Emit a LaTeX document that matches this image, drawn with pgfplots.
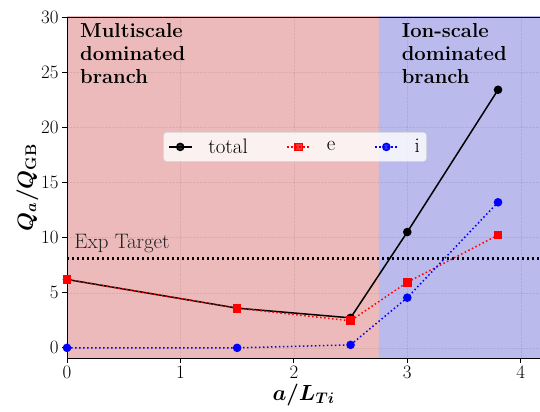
\RequirePackage{fix-cm}
\documentclass[border=0pt]{standalone}
\usepackage{amsmath}
\usepackage{bm}
\usepackage{pgfplots}
\pgfplotsset{compat=1.18}
\definecolor{redreg}{RGB}{236,186,186}
\definecolor{bluereg}{RGB}{186,186,236}
\begin{document}
\begin{tikzpicture}[font=\fontsize{19}{23}\selectfont]
\begin{axis}[
  at={(0,0)}, anchor=south west,
  scale only axis, width=473bp, height=341bp,
  xmin=0, xmax=4.17, ymin=-0.92, ymax=30,
  xtick={0,1,2,3,4}, ytick={0,5,10,15,20,25,30},
  tick align=outside, xtick pos=bottom, ytick pos=left,
  major tick length=5bp,
  tick style={black, line width=0.8bp},
  axis line style={line width=0.8bp},
  tick label style={font=\fontsize{19}{23}\selectfont},
  xlabel={$\bm{a/L_{Ti}}$}, ylabel={$\bm{Q_a/Q_{\mathbf{GB}}}$},
  label style={font=\fontsize{22}{26}\selectfont},
  xlabel style={yshift=2bp},
  ylabel style={yshift=-4bp},
  grid=major, major grid style={densely dotted, black, opacity=0.07},
  axis on top,
  legend columns=3,
  legend style={at={(0.482,0.619)}, anchor=center, draw=black!15, fill=white, fill opacity=0.8, text opacity=1, rounded corners=3bp, font=\fontsize{21}{24}\selectfont, inner sep=4.5bp,
    /tikz/every odd column/.append style={column sep=0.5cm},
    /tikz/every even column/.append style={column sep=1.3cm}},
  legend cell align=left,
  legend image code/.code={\draw[mark repeat=2,mark phase=2] plot coordinates {(0cm,0cm)(0.4cm,0cm)(0.8cm,0cm)};},
]
\addplot[fill=redreg, draw=none, forget plot] coordinates {(0,-2)(2.75,-2)(2.75,31)(0,31)} \closedcycle;
\addplot[fill=bluereg, draw=none, forget plot] coordinates {(2.75,-2)(4.3,-2)(4.3,31)(2.75,31)} \closedcycle;
\addplot[black, line width=2.2bp, dash pattern=on 2bp off 3bp, forget plot] coordinates {(0,8.1)(4.17,8.1)};
\addplot[black, line width=1.5bp, mark=*, mark size=3.5bp, mark options={solid}] coordinates {(0,6.2)(1.5,3.6)(2.5,2.72)(3,10.5)(3.8,23.4)};
\addlegendentry{total}
\addplot[red, line width=1.5bp, dash pattern=on 1.5bp off 2.5bp, mark=square*, mark size=3.6bp, mark options={solid}] coordinates {(0,6.2)(1.5,3.6)(2.5,2.45)(3,5.95)(3.8,10.22)};
\addlegendentry{e}
\addplot[blue, line width=1.5bp, dash pattern=on 1.5bp off 2.5bp, mark=*, mark size=3.5bp, mark options={solid}] coordinates {(0,0)(1.5,0)(2.5,0.27)(3,4.55)(3.8,13.2)};
\addlegendentry{i}
\node[anchor=base west, black!88, font=\fontsize{21}{24}\selectfont] at (axis cs:0.035,9.05) {Exp Target};
\node[anchor=north west, inner sep=0pt, align=left, font=\fontsize{20.3}{23}\selectfont\bfseries] at (axis cs:0.115,29.4) {Multiscale\\dominated\\branch};
\node[anchor=north west, inner sep=0pt, align=left, font=\fontsize{20.3}{23}\selectfont\bfseries] at (axis cs:2.95,29.4) {Ion-scale\\dominated\\branch};
\end{axis}
\pgfresetboundingbox
\path[use as bounding box] (-67bp,-54bp) rectangle (473bp,358bp);
\end{tikzpicture}
\end{document}
